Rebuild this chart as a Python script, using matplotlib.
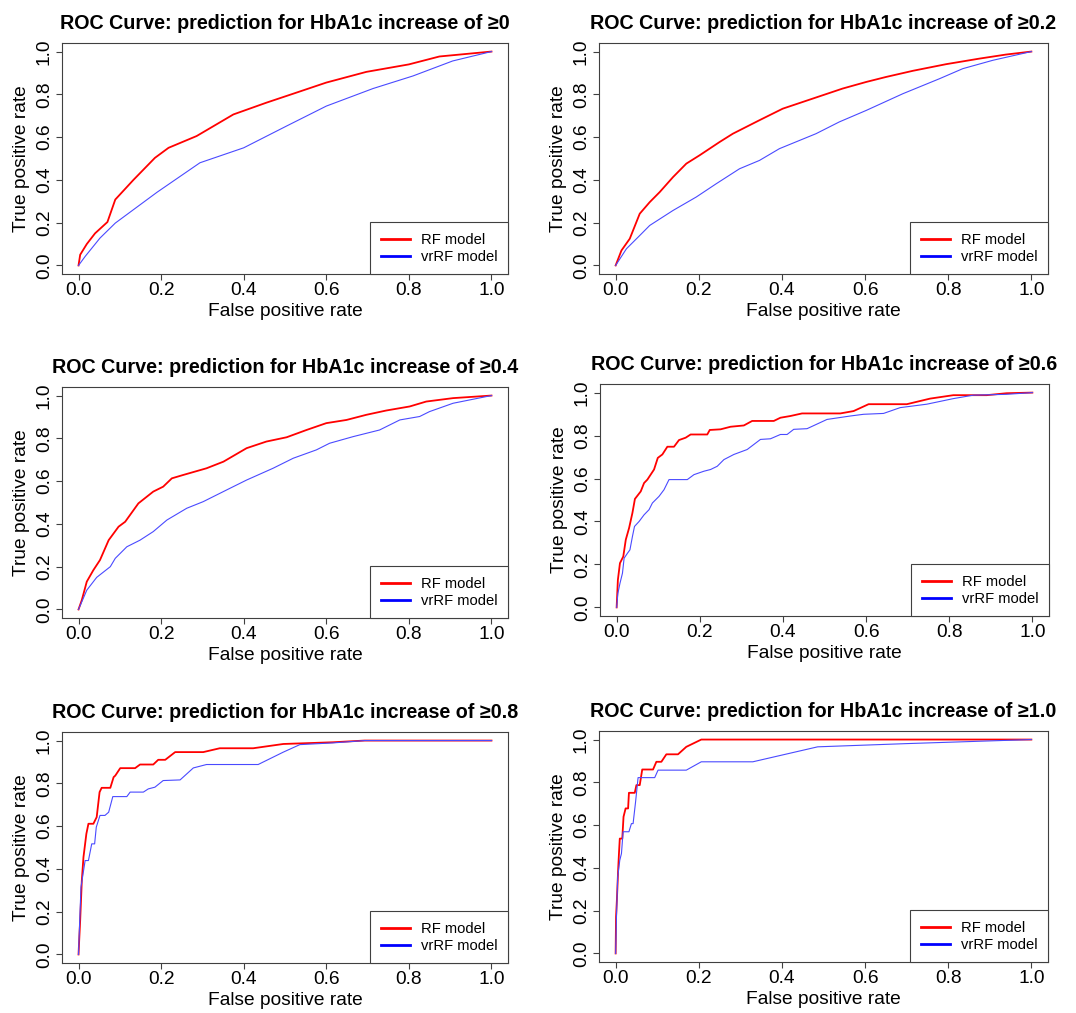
import numpy as np
import matplotlib
matplotlib.use('Agg')
import matplotlib.pyplot as plt

plt.rcParams['font.family'] = ['Liberation Sans', 'DejaVu Sans']

thresholds = ['0', '0.2', '0.4', '0.6', '0.8', '1.0']
legend_labels = ['RF model', 'vrRF model']
ticks = [0.0, 0.2, 0.4, 0.6, 0.8, 1.0]
tick_labels = ['0.0', '0.2', '0.4', '0.6', '0.8', '1.0']

# --- >=0 ---
rf0_fpr = [0, 0.004, 0.02, 0.04, 0.07, 0.089, 0.133, 0.185, 0.218, 0.286, 0.375, 0.455, 0.52, 0.60, 0.697, 0.80, 0.874, 1.0]
rf0_tpr = [0, 0.05, 0.10, 0.15, 0.203, 0.308, 0.40, 0.503, 0.55, 0.605, 0.706, 0.761, 0.803, 0.855, 0.905, 0.94, 0.977, 1.0]
vr0_fpr = [0, 0.016, 0.052, 0.089, 0.19, 0.294, 0.40, 0.504, 0.60, 0.713, 0.81, 0.906, 1.0]
vr0_tpr = [0, 0.042, 0.128, 0.198, 0.342, 0.48, 0.55, 0.652, 0.745, 0.827, 0.886, 0.956, 1.0]

# --- >=0.2 ---
rf2_fpr = [0, 0.014, 0.034, 0.058, 0.082, 0.106, 0.138, 0.17, 0.202, 0.25, 0.282, 0.346, 0.402, 0.474, 0.546, 0.603, 0.65, 0.715, 0.795, 0.875, 0.939, 1.0]
rf2_tpr = [0, 0.07, 0.125, 0.242, 0.296, 0.343, 0.413, 0.476, 0.515, 0.577, 0.616, 0.679, 0.733, 0.78, 0.827, 0.858, 0.881, 0.91, 0.941, 0.967, 0.986, 1.0]
vr2_fpr = [0, 0.026, 0.058, 0.082, 0.138, 0.194, 0.242, 0.298, 0.346, 0.394, 0.482, 0.538, 0.603, 0.691, 0.779, 0.835, 0.907, 1.0]
vr2_tpr = [0, 0.078, 0.14, 0.187, 0.257, 0.32, 0.382, 0.452, 0.491, 0.546, 0.616, 0.671, 0.725, 0.803, 0.873, 0.92, 0.959, 1.0]

# --- >=0.4 ---
rf4_fpr = [0, 0.008, 0.02, 0.036, 0.052, 0.073, 0.097, 0.113, 0.145, 0.181, 0.205, 0.226, 0.254, 0.31, 0.351, 0.407, 0.455, 0.504, 0.552, 0.60, 0.649, 0.697, 0.745, 0.802, 0.842, 0.907, 1.0]
rf4_tpr = [0, 0.044, 0.13, 0.184, 0.231, 0.324, 0.387, 0.41, 0.496, 0.551, 0.574, 0.613, 0.629, 0.66, 0.691, 0.754, 0.785, 0.805, 0.839, 0.871, 0.886, 0.91, 0.93, 0.949, 0.972, 0.988, 1.0]
vr4_fpr = [0, 0.02, 0.044, 0.077, 0.089, 0.117, 0.149, 0.181, 0.214, 0.262, 0.302, 0.359, 0.407, 0.471, 0.52, 0.576, 0.608, 0.665, 0.729, 0.778, 0.826, 0.85, 0.907, 1.0]
vr4_tpr = [0, 0.09, 0.15, 0.20, 0.239, 0.293, 0.324, 0.364, 0.418, 0.473, 0.504, 0.559, 0.605, 0.66, 0.707, 0.746, 0.777, 0.808, 0.839, 0.886, 0.902, 0.925, 0.964, 1.0]

# --- >=0.6 ---
rf6_fpr = [0, 0.003, 0.008, 0.016, 0.022, 0.03, 0.038, 0.044, 0.058, 0.066, 0.074, 0.09, 0.099, 0.11, 0.122, 0.138, 0.15, 0.166, 0.178, 0.218, 0.224, 0.25, 0.274, 0.306, 0.326, 0.378, 0.394, 0.418, 0.446, 0.538, 0.57, 0.606, 0.698, 0.754, 0.81, 0.89, 0.938, 1.0]
rf6_tpr = [0, 0.128, 0.206, 0.237, 0.315, 0.37, 0.44, 0.505, 0.54, 0.579, 0.595, 0.642, 0.696, 0.712, 0.748, 0.748, 0.779, 0.79, 0.805, 0.805, 0.826, 0.829, 0.841, 0.847, 0.868, 0.868, 0.883, 0.891, 0.903, 0.903, 0.914, 0.946, 0.946, 0.972, 0.988, 0.988, 0.997, 1.0]
vr6_fpr = [0, 0.003, 0.008, 0.014, 0.018, 0.026, 0.032, 0.038, 0.043, 0.054, 0.066, 0.078, 0.086, 0.102, 0.114, 0.126, 0.17, 0.186, 0.21, 0.226, 0.242, 0.258, 0.282, 0.314, 0.346, 0.37, 0.394, 0.41, 0.426, 0.458, 0.506, 0.562, 0.594, 0.642, 0.682, 0.746, 0.81, 0.858, 0.938, 1.0]
vr6_tpr = [0, 0.065, 0.112, 0.159, 0.229, 0.252, 0.268, 0.33, 0.377, 0.40, 0.431, 0.455, 0.486, 0.517, 0.548, 0.595, 0.595, 0.618, 0.634, 0.642, 0.657, 0.688, 0.712, 0.735, 0.782, 0.785, 0.805, 0.805, 0.829, 0.832, 0.875, 0.891, 0.899, 0.903, 0.93, 0.946, 0.972, 0.988, 0.992, 1.0]

# --- >=0.8 ---
rf8_fpr = [0, 0.002, 0.004, 0.008, 0.012, 0.019, 0.024, 0.036, 0.044, 0.051, 0.056, 0.077, 0.085, 0.089, 0.101, 0.137, 0.149, 0.181, 0.193, 0.21, 0.234, 0.302, 0.342, 0.423, 0.496, 0.616, 0.693, 1.0]
rf8_tpr = [0, 0.081, 0.159, 0.346, 0.455, 0.564, 0.611, 0.611, 0.642, 0.759, 0.779, 0.779, 0.829, 0.836, 0.871, 0.871, 0.888, 0.888, 0.91, 0.91, 0.946, 0.946, 0.964, 0.964, 0.984, 0.992, 1.0, 1.0]
vr8_fpr = [0, 0.002, 0.006, 0.016, 0.024, 0.032, 0.039, 0.043, 0.052, 0.064, 0.073, 0.083, 0.117, 0.125, 0.157, 0.169, 0.185, 0.205, 0.246, 0.278, 0.31, 0.435, 0.496, 0.536, 0.616, 0.693, 1.0]
vr8_tpr = [0, 0.112, 0.315, 0.439, 0.439, 0.517, 0.517, 0.595, 0.65, 0.65, 0.665, 0.738, 0.738, 0.759, 0.759, 0.774, 0.782, 0.813, 0.816, 0.872, 0.888, 0.888, 0.946, 0.981, 0.989, 1.0, 1.0]

# --- >=1.0 ---
rf10_fpr = [0, 0.001, 0.003, 0.006, 0.008, 0.01, 0.016, 0.019, 0.024, 0.03, 0.032, 0.046, 0.05, 0.058, 0.064, 0.09, 0.098, 0.11, 0.122, 0.15, 0.17, 0.206, 1.0]
rf10_tpr = [0, 0.171, 0.249, 0.389, 0.467, 0.537, 0.537, 0.639, 0.678, 0.678, 0.751, 0.751, 0.787, 0.787, 0.86, 0.86, 0.896, 0.896, 0.931, 0.931, 0.966, 1.0, 1.0]
vr10_fpr = [0, 0.002, 0.005, 0.01, 0.014, 0.018, 0.032, 0.038, 0.042, 0.048, 0.054, 0.094, 0.102, 0.17, 0.206, 0.33, 0.486, 0.699, 1.0]
vr10_tpr = [0, 0.171, 0.358, 0.436, 0.467, 0.569, 0.569, 0.607, 0.607, 0.709, 0.822, 0.822, 0.857, 0.857, 0.896, 0.896, 0.966, 0.981, 1.0]

rf_fpr = [rf0_fpr, rf2_fpr, rf4_fpr, rf6_fpr, rf8_fpr, rf10_fpr]
rf_tpr = [rf0_tpr, rf2_tpr, rf4_tpr, rf6_tpr, rf8_tpr, rf10_tpr]
vr_fpr = [vr0_fpr, vr2_fpr, vr4_fpr, vr6_fpr, vr8_fpr, vr10_fpr]
vr_tpr = [vr0_tpr, vr2_tpr, vr4_tpr, vr6_tpr, vr8_tpr, vr10_tpr]

W, H = 1076, 1013
# axes boxes in pixels: left, right, top, bottom
boxes = [(62, 508, 43, 274), (599, 1048, 43, 274),
         (62, 508, 387, 618), (600, 1049, 384, 616),
         (62, 508, 732, 963), (599, 1048, 731, 962)]

fig = plt.figure(figsize=(W / 100, H / 100), dpi=100)
frame_col = '#404040'

for i, (l, r, t, b) in enumerate(boxes):
    ax = fig.add_axes([l / W, 1 - b / H, (r - l) / W, (b - t) / H])
    ax.plot(rf_fpr[i], rf_tpr[i], color='red', lw=1.3, label=legend_labels[0])
    ax.plot(vr_fpr[i], vr_tpr[i], color='#4a4aff', lw=0.8, label=legend_labels[1])
    ax.set_xlim(-0.04, 1.04)
    ax.set_ylim(-0.04, 1.04)
    ax.set_xticks(ticks)
    ax.set_xticklabels(tick_labels)
    ax.set_yticks(ticks)
    ax.set_yticklabels(tick_labels, rotation=90, va='center')
    ax.tick_params(axis='both', labelsize=13.8, length=4.5, width=0.8,
                   color=frame_col, direction='out')
    ax.tick_params(axis='x', pad=1)
    ax.tick_params(axis='y', pad=2)
    for s in ax.spines.values():
        s.set_color(frame_col)
        s.set_linewidth(0.8)
    ax.set_xlabel('False positive rate', fontsize=13.8, labelpad=3)
    ax.set_ylabel('True positive rate', fontsize=13.8, labelpad=4)
    ax.set_title('ROC Curve: prediction for HbA1c increase of \u2265' + thresholds[i],
                 fontsize=14.2, fontweight='bold', pad=10)
    leg = ax.legend(loc='lower right', borderaxespad=0, fancybox=False,
                    edgecolor=frame_col, framealpha=1, fontsize=10.6,
                    borderpad=0.7, handlelength=2.0, handletextpad=0.75,
                    labelspacing=0.2)
    leg.get_frame().set_linewidth(0.8)
    for ln, c in zip(leg.get_lines(), ['red', 'blue']):
        ln.set_linewidth(2.0)
        ln.set_color(c)

fig.savefig('out.png', dpi=100)
